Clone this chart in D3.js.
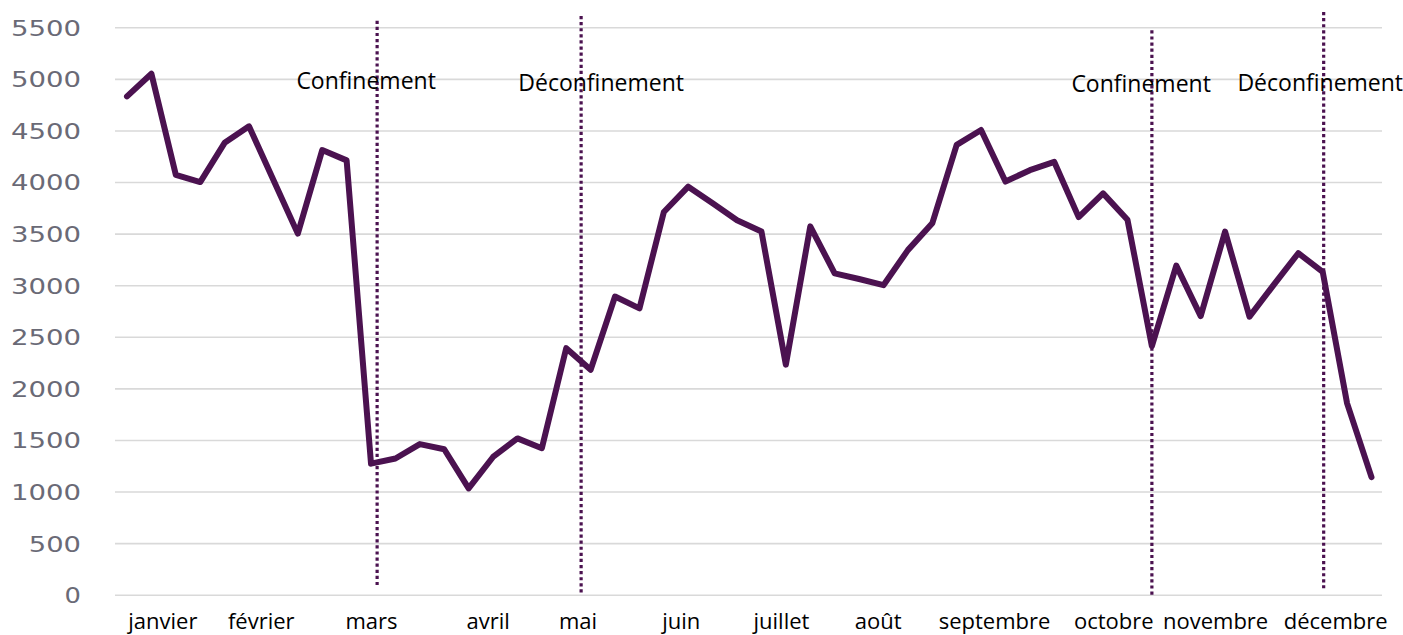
<!DOCTYPE html>
<html>
<head>
<meta charset="utf-8">
<script src="https://cdn.jsdelivr.net/npm/d3@7"></script>
<style>
  html, body { margin: 0; padding: 0; background: #ffffff; }
  svg { display: block; }
</style>
</head>
<body>
<svg id="chart" width="1403" height="635"></svg>
<script>
// ---- Data (weekly values, 52 weeks) ----
const weeks = d3.range(1, 53);
const values = [4830, 5050, 4070, 4000, 4380, 4540, 4020, 3500, 4310, 4210,
                1270, 1320, 1460, 1410, 1030, 1335, 1515, 1420, 2390, 2180,
                2890, 2775, 3710, 3955, 3795, 3630, 3520, 2230, 3570, 3115,
                3060, 3000, 3340, 3600, 4360, 4505, 4005, 4115, 4195, 3660,
                3890, 3635, 2410, 3190, 2700, 3520, 2695, 3005, 3310, 3130,
                1855, 1140];

// y-axis ticks
const yTicks = [0, 500, 1000, 1500, 2000, 2500, 3000, 3500, 4000, 4500, 5000, 5500];

// month labels and where they sit on the week axis
const monthNames = ["janvier", "février", "mars", "avril", "mai", "juin",
                    "juillet", "août", "septembre", "octobre", "novembre", "décembre"];
const monthWeek = [2.45, 6.48, 11.0, 15.78, 19.46, 23.69, 27.8, 31.76, 36.53, 41.42, 45.59, 50.51];

// events (lockdown / end of lockdown) on the week axis
const eventNames = ["Confinement", "Déconfinement", "Confinement", "Déconfinement"];
const eventWeek = [11.25, 19.61, 43.0, 50.04];
const eventTop = [5564, 5610, 5471, 5649];
const eventBottom = [75, 19, -19, 62];
const eventLabelWeek = [10.8, 20.43, 42.56, 49.9];
const eventLabelValue = [4900, 4880, 4870, 4880];

// ---- Layout ----
const svg = d3.select("#chart");
const gridLeft = 115, gridRight = 1382;

const x = d3.scaleLinear().domain([1, 52]).range([127, 1371.5]);
const y = d3.scaleLinear().domain([0, 5500]).range([594.7, 27.3]);

// gridlines + y labels
const yAxis = d3.axisLeft(y)
  .tickValues(yTicks)
  .tickFormat(d3.format("d"))
  .tickSizeInner(-(gridRight - gridLeft))
  .tickSizeOuter(0)
  .tickPadding(34);

const gy = svg.append("g")
  .attr("transform", `translate(${gridLeft},0)`)
  .call(yAxis);
gy.select(".domain").remove();
gy.selectAll(".tick line")
  .attr("stroke", "#d9d9d9")
  .attr("stroke-width", 1.6);
gy.selectAll(".tick text")
  .attr("fill", "#6a6a76")
  .style("font-family", "'DejaVu Sans', Verdana, sans-serif")
  .style("font-size", "22px")
  .attr("dy", "0.36em")
  .attr("textLength", d => String(d).length * 17.9 - 1.5)
  .attr("lengthAdjust", "spacingAndGlyphs");

// month labels
const xAxis = d3.axisBottom(x)
  .tickValues(monthWeek)
  .tickFormat((d, i) => monthNames[i])
  .tickSize(0)
  .tickPadding(19);
const gx = svg.append("g")
  .attr("transform", `translate(0,${y(0)})`)
  .call(xAxis);
gx.select(".domain").remove();
gx.selectAll(".tick text")
  .attr("fill", "#000")
  .style("font-family", "'Open Sans', 'Noto Sans', sans-serif")
  .style("font-size", "22px");

// event dotted lines
svg.append("g").selectAll("line")
  .data(eventWeek)
  .join("line")
  .attr("x1", d => x(d))
  .attr("x2", d => x(d))
  .attr("y1", (d, i) => y(eventTop[i]))
  .attr("y2", (d, i) => y(eventBottom[i]))
  .attr("stroke", "#4b1250")
  .attr("stroke-width", 3.2)
  .attr("stroke-dasharray", "3.2,2.9");

// main line
const line = d3.line()
  .x((d, i) => x(weeks[i]))
  .y(d => y(d));
svg.append("path")
  .datum(values)
  .attr("fill", "none")
  .attr("stroke", "#4b1250")
  .attr("stroke-width", 6)
  .attr("stroke-linejoin", "round")
  .attr("stroke-linecap", "round")
  .attr("d", line);

// event labels
svg.append("g").selectAll("text")
  .data(eventNames)
  .join("text")
  .attr("x", (d, i) => x(eventLabelWeek[i]))
  .attr("y", (d, i) => y(eventLabelValue[i]))
  .attr("text-anchor", "middle")
  .attr("fill", "#000")
  .style("font-family", "'Open Sans', 'Noto Sans', sans-serif")
  .style("font-size", "23px")
  .text(d => d);
</script>
</body>
</html>
